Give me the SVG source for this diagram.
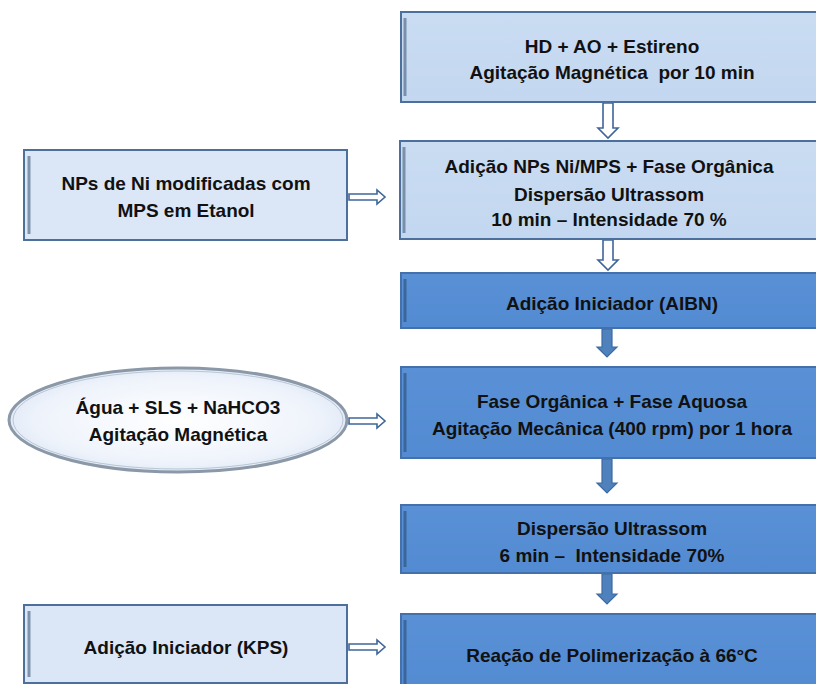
<svg xmlns="http://www.w3.org/2000/svg" width="816" height="684" viewBox="0 0 816 684">
<defs>
<linearGradient id="gl" x1="0" y1="0" x2="0" y2="1"><stop offset="0" stop-color="#c9dcf2"/><stop offset="1" stop-color="#c3d7f0"/></linearGradient>
<linearGradient id="gd" x1="0" y1="0" x2="0" y2="1"><stop offset="0" stop-color="#5990d6"/><stop offset="1" stop-color="#538bd2"/></linearGradient>
<radialGradient id="ge" cx="0.5" cy="0.5" r="0.6"><stop offset="0" stop-color="#ffffff"/><stop offset="0.7" stop-color="#eef3fb"/><stop offset="1" stop-color="#d6e2f2"/></radialGradient>
<style>
.t{font-family:"Liberation Sans",Arial,sans-serif;font-weight:bold;font-size:19px;fill:#111;text-anchor:middle}
.bl{fill:url(#gl);stroke:#4c6f9c;stroke-width:2}
.bs{fill:#dbe7f7;stroke:#4c6f9c;stroke-width:2}
.bd{fill:url(#gd);stroke:#4471ab;stroke-width:2}
.edge{fill:none;stroke:#5a6f8c;stroke-width:3;opacity:0.7}
.ah{fill:#ffffff;stroke:#3f6699;stroke-width:1.6;stroke-linejoin:miter}
.af{fill:#4f81bd;stroke:#3e6aa0;stroke-width:1.2}
</style>
</defs>
<g id="connectors">
<path class="ah" d="M603,103 V128 H598 L608,138 L618,128 H613 V103 Z"/>
<path class="ah" d="M603,240 V260 H598 L608,270 L618,260 H613 V240 Z"/>
<path class="af" d="M602,329 V347 H597 L607,357 L617,347 H612 V329 Z"/>
<path class="af" d="M602,459 V483 H597 L607,493 L617,483 H612 V459 Z"/>
<path class="af" d="M602,574 V594 H597 L607,604 L617,594 H612 V574 Z"/>
<path class="ah" d="M349,194 H377 V190 L385,197 L377,204 V200 H349 Z"/>
<path class="ah" d="M349,418 H377 V414 L385,421 L377,428 V424 H349 Z"/>
<path class="ah" d="M349,644 H377 V640 L385,647 L377,654 V650 H349 Z"/>
</g>
<g id="n1">
<rect class="bl" x="401" y="12" width="424" height="90"/>
<line class="edge" x1="405" y1="18" x2="405" y2="96"/>
<text class="t" x="612" y="53">HD + AO + Estireno</text>
<text class="t" x="612" y="79" xml:space="preserve">Agitação Magnética  por 10 min</text>
</g>
<g id="n2">
<rect class="bl" x="400" y="141" width="424" height="98"/>
<line class="edge" x1="404" y1="147" x2="404" y2="233"/>
<text class="t" x="609" y="173">Adição NPs Ni/MPS + Fase Orgânica</text>
<text class="t" x="609" y="201">Dispersão Ultrassom</text>
<text class="t" x="609" y="226">10 min – Intensidade 70 %</text>
</g>
<g id="n3">
<rect class="bd" x="401" y="273" width="424" height="55"/>
<line class="edge" x1="405" y1="279" x2="405" y2="322" style="stroke:#2f5580"/>
<text class="t" x="612" y="310">Adição Iniciador (AIBN)</text>
</g>
<g id="n4">
<rect class="bd" x="401" y="367" width="424" height="91"/>
<line class="edge" x1="405" y1="373" x2="405" y2="452" style="stroke:#2f5580"/>
<text class="t" x="612" y="408">Fase Orgânica + Fase Aquosa</text>
<text class="t" x="612" y="435">Agitação Mecânica (400 rpm) por 1 hora</text>
</g>
<g id="n5">
<rect class="bd" x="401" y="505" width="424" height="68"/>
<line class="edge" x1="405" y1="511" x2="405" y2="567" style="stroke:#2f5580"/>
<text class="t" x="612" y="535">Dispersão Ultrassom</text>
<text class="t" x="612" y="562" xml:space="preserve">6 min –  Intensidade 70%</text>
</g>
<g id="n6">
<rect class="bd" x="401" y="614" width="424" height="80"/>
<line class="edge" x1="405" y1="620" x2="405" y2="690" style="stroke:#2f5580"/>
<text class="t" x="612" y="662">Reação de Polimerização à 66°C</text>
</g>
<g id="s1">
<rect class="bs" x="24" y="150" width="323" height="90"/>
<line class="edge" x1="29" y1="156" x2="29" y2="234"/>
<text class="t" x="186" y="190">NPs de Ni modificadas com</text>
<text class="t" x="186" y="217">MPS em Etanol</text>
</g>
<g id="s2">
<ellipse cx="178" cy="420" rx="169" ry="52" fill="url(#ge)" stroke="#8b98a8" stroke-width="3"/>
<ellipse cx="178" cy="420" rx="165" ry="49" fill="none" stroke="#b9c6d6" stroke-width="1"/>
<text class="t" x="178" y="414">Água + SLS + NaHCO3</text>
<text class="t" x="178" y="441">Agitação Magnética</text>
</g>
<g id="s3">
<rect class="bs" x="24" y="605" width="323" height="78"/>
<line class="edge" x1="29" y1="611" x2="29" y2="677"/>
<text class="t" x="186" y="654">Adição Iniciador (KPS)</text>
</g>
</svg>
